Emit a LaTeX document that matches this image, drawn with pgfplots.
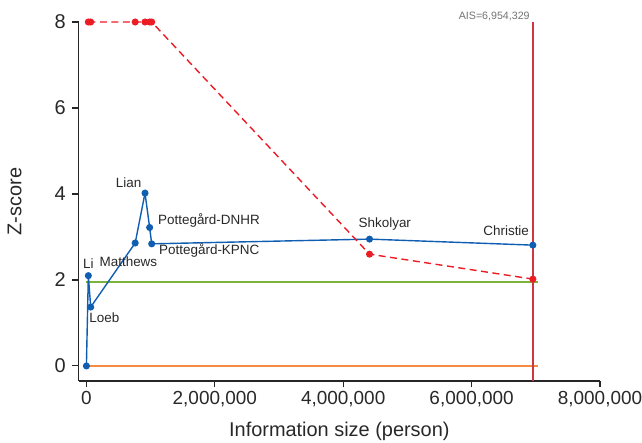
\documentclass[border=0pt]{standalone}
\usepackage{fontspec}
\setmainfont{Liberation Sans}
\usepackage{pgfplots}
\pgfplotsset{compat=1.18}
\definecolor{cblue}{RGB}{16,94,178}
\definecolor{cred}{RGB}{236,28,36}
\definecolor{cvline}{RGB}{205,55,68}
\definecolor{cgreen}{RGB}{125,178,60}
\definecolor{corange}{RGB}{245,140,65}
\definecolor{ctext}{RGB}{40,40,40}
\tikzset{lbl/.style={font=\fontsize{13.5}{15}\selectfont, text=ctext, inner sep=0pt}}
\begin{document}
\begin{tikzpicture}
\begin{axis}[
  name=ax,
  scale only axis,
  width=521.3bp, height=359bp,
  xmin=-120000, xmax=8000000,
  ymin=-0.35, ymax=8,
  axis x line=bottom, axis y line=left,
  axis line style={-, line width=1.1bp, color=black!85},
  tick align=outside,
  major tick length=6.5bp,
  tick style={line width=1.1bp, color=black!85},
  xtick={0,2000000,4000000,6000000,8000000},
  ytick={0,2,4,6,8},
  scaled x ticks=false,
  /pgf/number format/assume math mode=true,
  x tick label style={/pgf/number format/fixed, /pgf/number format/1000 sep={,}, font=\fontsize{19}{21}\selectfont},
  y tick label style={font=\fontsize{20}{22}\selectfont, xshift=-3bp},
  tick label style={color=ctext},
  label style={font=\fontsize{20}{22}\selectfont, color=ctext},
  xlabel={Information size (person)},
  ylabel={Z-score},
  xlabel style={at={(axis description cs:0.5,-0.139)}, anchor=center},
  ylabel style={at={(axis description cs:-0.123,0.5)}, anchor=center},
  clip=false,
]
% boundary lines
\addplot[color=cgreen, line width=1.7bp] coordinates {(0,1.96) (7030000,1.96)};
\addplot[color=corange, line width=1.3bp] coordinates {(0,0) (7030000,0)};
\addplot[color=cvline, line width=1.6bp] coordinates {(6954329,-0.35) (6954329,8)};
% cumulative Z-curve
\addplot[color=cblue, line width=1.4bp, mark=*, mark size=2.8bp] coordinates {
  (0,0) (30000,2.10) (67000,1.37) (760000,2.86) (913000,4.02)
  (985000,3.22) (1017000,2.84) (4410000,2.95) (6954329,2.81)};
% trial sequential monitoring boundary
\addplot[color=cred, line width=1.4bp, dash pattern=on 7bp off 4.5bp, mark=*, mark size=2.8bp, mark options={solid}] coordinates {
  (30000,8) (67000,8) (760000,8) (913000,8) (985000,8) (1017000,8)
  (4410000,2.60) (6954329,2.02)};
% study labels
\node[lbl, anchor=center, yshift=12bp] at (axis cs:30000,2.10) {Li};
\node[lbl, anchor=center, xshift=13.6bp, yshift=-11bp] at (axis cs:67000,1.37) {Loeb};
\node[lbl, anchor=center, xshift=-6.8bp, yshift=-18.5bp] at (axis cs:760000,2.86) {Matthews};
\node[lbl, anchor=center, xshift=-16.4bp, yshift=10.5bp] at (axis cs:913000,4.02) {Lian};
\node[lbl, anchor=west, xshift=8.3bp, yshift=6.7bp] at (axis cs:985000,3.22) {Pottegård-DNHR};
\node[lbl, anchor=west, xshift=7.3bp, yshift=-7bp] at (axis cs:1017000,2.84) {Pottegård-KPNC};
\node[lbl, anchor=center, xshift=15.3bp, yshift=15.3bp] at (axis cs:4410000,2.95) {Shkolyar};
\node[lbl, anchor=east, xshift=-3.7bp, yshift=14.5bp] at (axis cs:6954329,2.81) {Christie};
\node[font=\fontsize{10.7}{12}\selectfont, text=black!55, anchor=base east, inner sep=0pt, xshift=-3bp, yshift=2.7bp] at (axis cs:6954329,8) {AIS=6,954,329};
\end{axis}
\pgfresetboundingbox
\path[use as bounding box] ([shift={(-78.7bp,-62bp)}]ax.south west) rectangle ([shift={(42bp,22bp)}]ax.north east);
\end{tikzpicture}
\end{document}
